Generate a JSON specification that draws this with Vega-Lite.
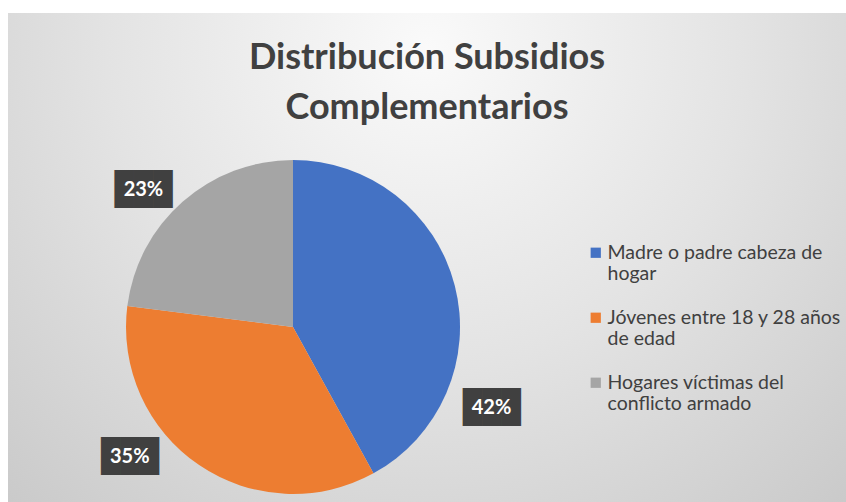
{
  "$schema": "https://vega.github.io/schema/vega-lite/v6.json",
  "width": 838,
  "height": 489,
  "autosize": {"type": "none"},
  "padding": {"top": 13, "left": 8, "right": 0, "bottom": 0},
  "background": "white",
  "config": {"view": {"stroke": null}},
  "title": {
    "text": ["Distribución Subsidios", "Complementarios"],
    "font": "Lato",
    "fontSize": 36,
    "fontWeight": "bold",
    "color": "#404040",
    "anchor": "middle",
    "frame": "group",
    "baseline": "top",
    "lineHeight": 50,
    "offset": -114
  },
  "data": {
    "values": [
      {"cat": "Madre o padre cabeza de hogar", "pct": 0.42, "rank": 1},
      {"cat": "Jóvenes entre 18 y 28 años de edad", "pct": 0.35, "rank": 2},
      {"cat": "Hogares víctimas del conflicto armado", "pct": 0.23, "rank": 3}
    ]
  },
  "layer": [
    {
      "data": {"values": [{"bg": "fondo"}]},
      "mark": {
        "type": "rect",
        "color": {
          "gradient": "radial",
          "x1": 0.5, "y1": 0.25, "r1": 0,
          "x2": 0.5, "y2": 0.25, "r2": 0.85,
          "stops": [
            {"offset": 0, "color": "#fafafa"},
            {"offset": 0.45, "color": "#e3e3e3"},
            {"offset": 1, "color": "#c2c2c2"}
          ]
        }
      },
      "encoding": {}
    },
    {
      "mark": {"type": "arc", "radius": 167, "x": {"expr": "width * 0.3401"}, "y": {"expr": "height * 0.6421"}},
      "encoding": {
        "theta": {"field": "pct", "type": "quantitative", "stack": true},
        "order": {"field": "rank", "type": "quantitative"},
        "color": {
          "field": "cat",
          "type": "nominal",
          "scale": {
            "domain": ["Madre o padre cabeza de hogar", "Jóvenes entre 18 y 28 años de edad", "Hogares víctimas del conflicto armado"],
            "range": ["#4472C4", "#ED7D31", "#A5A5A5"]
          },
          "legend": {
            "orient": "none",
            "legendX": 578,
            "legendY": 230,
            "title": null,
            "symbolType": "square",
            "symbolSize": 105,
            "symbolStrokeWidth": 0,
            "labelFont": "Lato",
            "labelFontSize": 19.5,
            "labelColor": "#404040",
            "labelBaseline": "middle",
            "labelOffset": 2,
            "labelLimit": 400,
            "gridAlign": "all",
            "rowPadding": 23,
            "labelExpr": "datum.label == 'Madre o padre cabeza de hogar' ? ['Madre o padre cabeza de', 'hogar'] : datum.label == 'Jóvenes entre 18 y 28 años de edad' ? ['Jóvenes entre 18 y 28 años', 'de edad'] : ['Hogares víctimas del', 'conflicto armado']"
          }
        }
      }
    },
    {
      "mark": {"type": "text", "radius": 205, "x": {"expr": "width * 0.3401"}, "y": {"expr": "height * 0.6421"}, "dx": 0, "dy": 132, "font": "DejaVu Sans Mono", "fontSize": 32, "color": "#404040", "align": "center", "baseline": "middle"},
      "encoding": {
        "theta": {"field": "pct", "type": "quantitative", "stack": true},
        "order": {"field": "rank", "type": "quantitative"},
        "detail": {"field": "cat"},
        "text": {"condition": {"test": "datum.rank == 1", "value": "███"}, "value": ""}
      }
    },
    {
      "mark": {"type": "text", "radius": 205, "x": {"expr": "width * 0.3401"}, "y": {"expr": "height * 0.6421"}, "dx": -48, "dy": -40, "font": "DejaVu Sans Mono", "fontSize": 32, "color": "#404040", "align": "center", "baseline": "middle"},
      "encoding": {
        "theta": {"field": "pct", "type": "quantitative", "stack": true},
        "order": {"field": "rank", "type": "quantitative"},
        "detail": {"field": "cat"},
        "text": {"condition": {"test": "datum.rank == 2", "value": "███"}, "value": ""}
      }
    },
    {
      "mark": {"type": "text", "radius": 205, "x": {"expr": "width * 0.3401"}, "y": {"expr": "height * 0.6421"}, "dx": -14, "dy": 17, "font": "DejaVu Sans Mono", "fontSize": 32, "color": "#404040", "align": "center", "baseline": "middle"},
      "encoding": {
        "theta": {"field": "pct", "type": "quantitative", "stack": true},
        "order": {"field": "rank", "type": "quantitative"},
        "detail": {"field": "cat"},
        "text": {"condition": {"test": "datum.rank == 3", "value": "███"}, "value": ""}
      }
    },
    {
      "mark": {"type": "text", "radius": 205, "x": {"expr": "width * 0.3401"}, "y": {"expr": "height * 0.6421"}, "dx": 0, "dy": 132, "font": "Lato", "fontSize": 20, "fontWeight": "bold", "color": "white", "align": "center", "baseline": "middle"},
      "encoding": {
        "theta": {"field": "pct", "type": "quantitative", "stack": true},
        "order": {"field": "rank", "type": "quantitative"},
        "detail": {"field": "cat"},
        "text": {"condition": {"test": "datum.rank == 1", "field": "pct", "format": ".0%"}, "value": ""}
      }
    },
    {
      "mark": {"type": "text", "radius": 205, "x": {"expr": "width * 0.3401"}, "y": {"expr": "height * 0.6421"}, "dx": -48, "dy": -40, "font": "Lato", "fontSize": 20, "fontWeight": "bold", "color": "white", "align": "center", "baseline": "middle"},
      "encoding": {
        "theta": {"field": "pct", "type": "quantitative", "stack": true},
        "order": {"field": "rank", "type": "quantitative"},
        "detail": {"field": "cat"},
        "text": {"condition": {"test": "datum.rank == 2", "field": "pct", "format": ".0%"}, "value": ""}
      }
    },
    {
      "mark": {"type": "text", "radius": 205, "x": {"expr": "width * 0.3401"}, "y": {"expr": "height * 0.6421"}, "dx": -14, "dy": 17, "font": "Lato", "fontSize": 20, "fontWeight": "bold", "color": "white", "align": "center", "baseline": "middle"},
      "encoding": {
        "theta": {"field": "pct", "type": "quantitative", "stack": true},
        "order": {"field": "rank", "type": "quantitative"},
        "detail": {"field": "cat"},
        "text": {"condition": {"test": "datum.rank == 3", "field": "pct", "format": ".0%"}, "value": ""}
      }
    }
  ]
}
